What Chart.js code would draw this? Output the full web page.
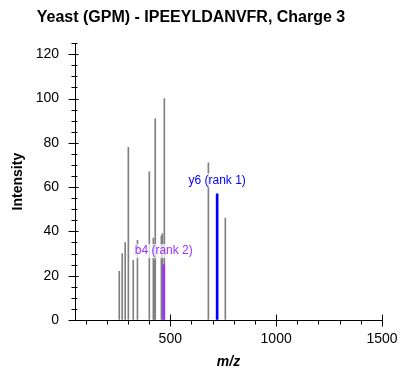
<!DOCTYPE html>
<html>
<head>
<meta charset="utf-8">
<script src="https://cdn.jsdelivr.net/npm/chart.js@4.4.0/dist/chart.umd.min.js"></script>
<style>
  html, body { margin: 0; padding: 0; background: #fff; }
</style>
</head>
<body>
<canvas id="myChart" width="412" height="383"></canvas>
<script>
// Picos sin asignar (m/z, intensidad)
const peakMz  = [259, 273, 287, 302, 325, 345, 401, 420, 425, 429, 458, 463, 472, 680, 760];
const peakInt = [22, 30, 35, 78, 27, 36, 67, 37, 27, 91, 38, 39, 100, 71, 46];

// Picos asignados
const matchLabels = ["y6 (rank 1)", "b4 (rank 2)"];
const matchMz     = [721.4, 469.2];
const matchInt    = [57, 25];
const matchColors = ["#0000ff", "#9933ff"];

const xTicks = [500, 1000, 1500];
const yTicks = [0, 20, 40, 60, 80, 100, 120];

const FONT = "Arial, 'Liberation Sans', sans-serif";

// Dibuja las marcas de los ejes y las etiquetas de los picos
const extras = {
  id: 'extras',
  afterDraw(chart) {
    const ctx = chart.ctx;
    const xs = chart.scales.x, ys = chart.scales.y;
    const ax = Math.round(xs.left) - 0.5;
    const ay = Math.round(ys.bottom) + 0.5;
    ctx.save();
    ctx.strokeStyle = '#000';
    ctx.lineWidth = 1;
    ctx.beginPath();
    for (let v = 0; v <= ys.max; v += 5) {
      const py = Math.round(ys.getPixelForValue(v)) + 0.5;
      if (v % 20 === 0) { ctx.moveTo(ax - 6, py); ctx.lineTo(ax + 4, py); }
      else { ctx.moveTo(ax - 3, py); ctx.lineTo(ax + 3, py); }
    }
    for (let v = 100; v <= xs.max; v += 100) {
      const px = Math.round(xs.getPixelForValue(v)) + 0.5;
      if (v % 500 === 0) { ctx.moveTo(px, ay - 6); ctx.lineTo(px, ay + 6); }
      else { ctx.moveTo(px, ay); ctx.lineTo(px, ay + 4); }
    }
    ctx.stroke();

    ctx.font = '12px ' + FONT;
    ctx.textAlign = 'center';
    ctx.textBaseline = 'middle';
    for (let i = 0; i < matchLabels.length; i++) {
      const px = xs.getPixelForValue(matchMz[i]);
      const py = ys.getPixelForValue(matchInt[i]) - 13.5;
      const w = ctx.measureText(matchLabels[i]).width;
      ctx.fillStyle = 'rgba(255,255,255,0.75)';
      ctx.fillRect(px - w / 2 - 1, py - 7, w + 2, 14);
      ctx.fillStyle = matchColors[i];
      ctx.fillText(matchLabels[i], px, py);
    }
    ctx.restore();
  }
};

const datasets = [{
  data: peakMz.map((m, i) => ({ x: m, y: peakInt[i] })),
  backgroundColor: '#808080',
  barThickness: 1,
  order: 2
}];
for (let i = 0; i < matchLabels.length; i++) {
  datasets.push({
    data: [{ x: matchMz[i], y: matchInt[i] }],
    backgroundColor: matchColors[i],
    barThickness: 2,
    order: 1
  });
}

let ctx = document.getElementById('myChart');

let spectrumChart = new Chart(ctx, {
  type: 'bar',
  data: { datasets: datasets },
  options: {
    responsive: false,
    animation: false,
    devicePixelRatio: 1,
    grouped: false,
    layout: { padding: { left: 0, right: 30, top: 0, bottom: 0 } },
    plugins: {
      legend: { display: false },
      tooltip: { enabled: false },
      title: {
        display: true,
        text: 'Yeast (GPM) - IPEEYLDANVFR, Charge 3',
        color: '#000',
        font: { family: FONT, size: 16, weight: 'bold' },
        padding: { top: 8, bottom: 16 }
      }
    },
    scales: {
      x: {
        type: 'linear',
        min: 50,
        max: 1500,
        offset: false,
        afterFit(scale) { scale.height = 63; },
        afterBuildTicks(scale) { scale.ticks = xTicks.map(v => ({ value: v })); },
        grid: { drawOnChartArea: false, drawTicks: false },
        border: { color: '#000', width: 1 },
        ticks: {
          color: '#000',
          font: { family: FONT, size: 14 },
          padding: 11,
          maxRotation: 0,
          callback: v => String(v)
        },
        title: {
          display: true,
          text: 'm/z',
          color: '#000',
          font: { family: FONT, size: 14, weight: 'bold', style: 'italic' },
          padding: { top: 4, bottom: 12 }
        }
      },
      y: {
        min: 0,
        max: 125,
        afterFit(scale) { scale.width = 75; },
        afterBuildTicks(scale) { scale.ticks = yTicks.map(v => ({ value: v })); },
        grid: { drawOnChartArea: false, drawTicks: false },
        border: { color: '#000', width: 1 },
        ticks: { color: '#000', font: { family: FONT, size: 14 }, padding: 16 },
        title: {
          display: true,
          text: 'Intensity',
          color: '#000',
          font: { family: FONT, size: 14, weight: 'bold' },
          padding: { top: 10, bottom: 0 }
        }
      }
    }
  },
  plugins: [extras]
});
</script>
</body>
</html>
